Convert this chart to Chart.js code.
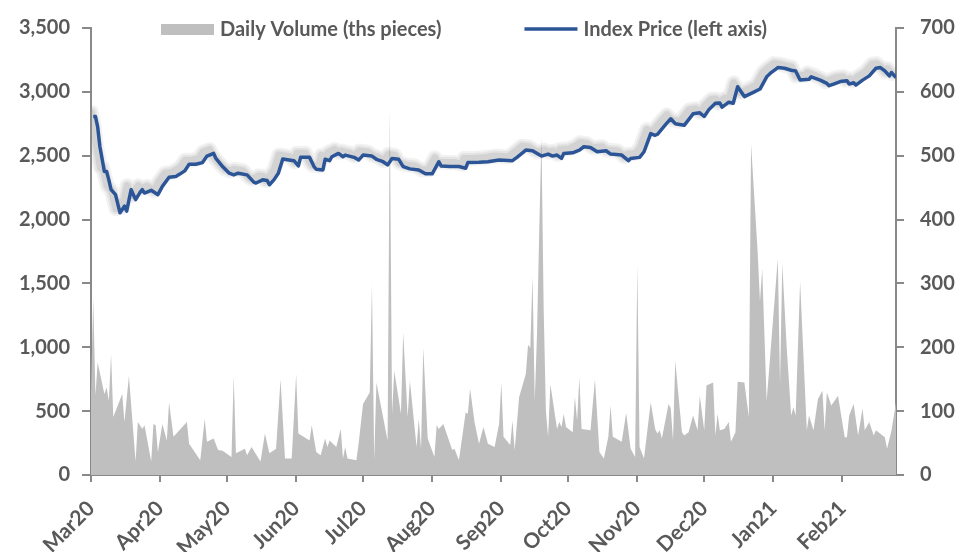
<!DOCTYPE html>
<html>
<head>
<meta charset="utf-8">
<script src="https://cdn.jsdelivr.net/npm/chart.js@4.4.1/dist/chart.umd.min.js"></script>
<style>
  html, body { margin: 0; padding: 0; background: #fff; }
</style>
</head>
<body>
<canvas id="indexChart" width="959" height="552"></canvas>
<script>
// x values are calendar days counted from 1 Mar 2020
const monthTicks = [0, 31, 61, 92, 122, 153, 184, 214, 245, 275, 306, 337];
const monthLabels = ['Mar20', 'Apr20', 'May20', 'Jun20', 'Jul20', 'Aug20',
                     'Sep20', 'Oct20', 'Nov20', 'Dec20', 'Jan21', 'Feb21'];

// Daily volume (ths pieces), right axis
const volumeDays = [0, 1, 2, 3, 6, 7, 8, 9, 10, 14, 15, 17, 20, 21, 23, 24, 27, 28, 29, 30, 32, 34, 35, 37,
  43, 44, 49, 51, 52, 55, 57, 59, 63, 64, 65, 69, 70, 72, 76, 78, 80, 83, 85, 87, 90, 92, 93,
  98, 99, 101, 103, 105, 106, 107, 110, 112, 113, 114, 115, 119, 120, 122, 125, 126, 127, 128,
  133, 134, 135, 136, 139, 140, 142, 143, 146, 147, 148, 149, 151, 154, 155, 156, 158, 162, 163,
  165, 168, 169, 170, 172, 174, 176, 178, 181, 183, 184, 185, 188, 189, 190, 192, 195, 196, 197,
  198, 199, 200, 201, 202, 203, 204, 205, 206, 209, 210, 211, 212, 213, 216, 217, 218, 219, 220,
  224, 226, 228, 230, 232, 233, 234, 238, 240, 242, 244, 245, 246, 248, 251, 253, 254, 255, 256,
  259, 260, 261, 262, 265, 266, 268, 270, 272, 273, 275, 276, 279, 280, 281, 282, 284, 286, 287,
  289, 290, 293, 295, 296, 299, 300, 301, 303, 308, 309, 310, 312, 314, 315, 316, 318, 321, 322,
  324, 326, 328, 329, 330, 332, 335, 338, 339, 340, 342, 344, 346, 347, 349, 351, 352, 356, 357,
  359, 361];
const volumeValues = [127, 277, 125, 176, 127, 137, 116, 189, 91, 127, 83, 155, 21, 83, 72, 78, 21, 80, 78, 36, 80, 54, 114, 60,
  83, 49, 23, 88, 52, 57, 39, 38, 28, 155, 34, 41, 31, 44, 21, 65, 34, 41, 150, 26, 26, 158, 65,
  54, 78, 36, 31, 57, 44, 54, 44, 72, 26, 44, 26, 23, 49, 111, 129, 298, 23, 145,
  54, 572, 96, 163, 96, 223, 91, 148, 44, 88, 41, 199, 57, 28, 78, 72, 80, 39, 41,
  23, 98, 96, 135, 83, 49, 75, 49, 44, 80, 145, 60, 47, 85, 39, 122, 158, 204, 199,
  311, 116, 220, 380, 528, 260, 100, 60, 142, 72, 83, 75, 96, 75, 67, 122, 85, 153, 72,
  70, 150, 36, 26, 60, 109, 60, 52, 97, 41, 28, 329, 44, 26, 114, 72, 65, 70, 57,
  111, 104, 54, 179, 67, 62, 67, 93, 70, 124, 70, 140, 145, 62, 96, 70, 72, 83, 52,
  67, 146, 145, 91, 518, 347, 272, 323, 116, 339, 142, 331, 199, 93, 106, 93, 303, 70, 93,
  70, 119, 132, 70, 129, 109, 124, 59, 59, 93, 111, 62, 104, 70, 83, 62, 70, 59, 41,
  70, 114];

// Index price, left axis
const priceDays = [1, 2, 3, 4, 6, 7, 8, 9, 11, 13, 14, 15, 16, 18, 19, 20, 22, 23, 24, 27, 30, 32, 35, 38,
  40, 42, 44, 47, 50, 52, 55, 56, 59, 62, 64, 66, 70, 73, 74, 77, 79, 80, 82, 84, 86, 91, 93,
  94, 98, 100, 101, 104, 105, 107, 108, 111, 113, 114, 118, 120, 122, 126, 128, 131, 133, 135,
  138, 140, 143, 147, 150, 153, 156, 157, 161, 165, 168, 169, 174, 178, 183, 189, 191, 195, 198,
  202, 205, 207, 209, 211, 212, 216, 219, 221, 224, 227, 231, 233, 238, 241, 242, 246, 248, 251,
  253, 254, 258, 260, 262, 266, 270, 273, 275, 277, 280, 282, 283, 285, 286, 288, 290, 293, 297,
  300, 303, 305, 308, 311, 314, 316, 318, 322, 323, 327, 330, 331, 333, 336, 339, 340, 342, 343,
  346, 349, 352, 354, 356, 358, 359, 361];
const priceValues = [2807, 2807, 2725, 2570, 2376, 2376, 2311, 2234, 2195, 2053, 2079, 2105, 2066, 2234, 2195, 2156, 2213, 2234, 2208, 2229, 2195, 2260, 2332, 2337,
  2358, 2381, 2433, 2433, 2446, 2497, 2518, 2479, 2415, 2363, 2350, 2363, 2350, 2293, 2286, 2311, 2306, 2273, 2311, 2363, 2474, 2461, 2420,
  2487, 2487, 2415, 2394, 2389, 2472, 2461, 2492, 2518, 2492, 2505, 2487, 2466, 2505, 2497, 2472, 2453, 2428, 2479,
  2472, 2415, 2397, 2389, 2358, 2358, 2453, 2420, 2415, 2415, 2402, 2446, 2448, 2453, 2466, 2461, 2487, 2544, 2539,
  2497, 2513, 2497, 2505, 2479, 2518, 2523, 2544, 2570, 2565, 2531, 2539, 2513, 2505, 2461, 2479, 2487, 2531, 2673,
  2660, 2668, 2751, 2789, 2751, 2738, 2828, 2836, 2807, 2859, 2911, 2913, 2880, 2906, 2919, 2911, 3040, 2963, 2996,
  3022, 3118, 3151, 3190, 3185, 3169, 3164, 3092, 3099, 3118, 3092, 3066, 3048, 3061, 3081, 3087, 3061, 3071, 3053,
  3092, 3125, 3185, 3190, 3164, 3125, 3151, 3112];

const volumeColor = '#bfbfbf';
const priceColor = '#2b5597';
const textColor = '#595959';
const axisColor = '#898989';

Chart.defaults.font.family = 'Lato';
Chart.defaults.font.weight = 'bold';
Chart.defaults.color = textColor;

// soft grey shadow up and to the left of the price line, stacked translucent strokes
const lineShadow = {
    id: 'lineShadow',
    beforeDatasetDraw: (chart, args) => {
        if (args.index !== 0) return;
        const ctx = chart.ctx;
        const area = chart.chartArea;
        const xs = chart.scales.x, ys = chart.scales.y;
        const pts = priceDays.map((d, i) => [xs.getPixelForValue(d), ys.getPixelForValue(priceValues[i])]);
        ctx.save();
        ctx.beginPath();
        ctx.rect(area.left + 1, area.top, area.right - area.left - 1, area.bottom - area.top);
        ctx.clip();
        ctx.translate(-4, -4);
        ctx.lineJoin = 'round';
        ctx.lineCap = 'round';
        [[15, 0.05], [11, 0.06], [7, 0.08]].forEach(([w, a]) => {
            ctx.strokeStyle = 'rgba(0, 0, 0, ' + a + ')';
            ctx.lineWidth = w;
            ctx.beginPath();
            pts.forEach((p, i) => (i ? ctx.lineTo(p[0], p[1]) : ctx.moveTo(p[0], p[1])));
            ctx.stroke();
        });
        ctx.restore();
    }
};

// legend sits inside the plot, like the original
const insideLegend = {
    id: 'insideLegend',
    afterDraw: (chart) => {
        const ctx = chart.ctx;
        const items = [
            { text: 'Daily Volume (ths pieces)', kind: 'box', color: volumeColor },
            { text: 'Index Price (left axis)', kind: 'line', color: priceColor }
        ];
        const symbolW = 53, symbolGap = 6, itemGap = 83, y = 29;
        ctx.save();
        ctx.font = 'bold 20px Lato';
        let x = 161;
        items.forEach((it) => {
            const w = ctx.measureText(it.text).width;
            if (it.kind === 'box') {
                ctx.fillStyle = it.color;
                ctx.fillRect(x, y - 5, symbolW, 11);
            } else {
                ctx.strokeStyle = it.color;
                ctx.lineWidth = 3.5;
                ctx.beginPath();
                ctx.moveTo(x, y);
                ctx.lineTo(x + symbolW, y);
                ctx.stroke();
            }
            ctx.fillStyle = textColor;
            ctx.textBaseline = 'middle';
            ctx.fillText(it.text, x + symbolW + symbolGap, y + 1);
            x += symbolW + symbolGap + w + itemGap;
        });
        ctx.restore();
    }
};

new Chart(document.getElementById('indexChart').getContext('2d'), {
    type: 'line',
    plugins: [lineShadow, insideLegend],
    data: {
        datasets: [
            {
                label: 'Index Price (left axis)',
                data: priceDays.map((d, i) => ({ x: d, y: priceValues[i] })),
                yAxisID: 'y',
                borderColor: priceColor,
                borderWidth: 3.5,
                borderJoinStyle: 'round',
                pointRadius: 0,
                fill: false,
                tension: 0
            },
            {
                label: 'Daily Volume (ths pieces)',
                data: volumeDays.map((d, i) => ({ x: d, y: volumeValues[i] })),
                yAxisID: 'y1',
                backgroundColor: volumeColor,
                borderWidth: 0,
                pointRadius: 0,
                fill: 'origin',
                tension: 0
            }
        ]
    },
    options: {
        responsive: false,
        animation: false,
        devicePixelRatio: 1,
        layout: { padding: { top: 25, left: 0, right: 0, bottom: 0 } },
        plugins: {
            legend: { display: false },
            tooltip: { enabled: false }
        },
        scales: {
            x: {
                type: 'linear',
                min: 0,
                max: 361,
                afterBuildTicks: (scale) => {
                    scale.ticks = monthTicks.map((v) => ({ value: v }));
                },
                afterFit: (scale) => { scale.height = 77; },
                ticks: {
                    autoSkip: false,
                    maxRotation: 45,
                    minRotation: 45,
                    padding: 14,
                    color: textColor,
                    font: { size: 21, weight: 'bold' },
                    callback: (value) => monthLabels[monthTicks.indexOf(value)]
                },
                grid: { drawOnChartArea: false, color: axisColor, lineWidth: 2, tickLength: 7 },
                border: { color: axisColor, width: 2 }
            },
            y: {
                position: 'left',
                min: 0,
                max: 3500,
                afterFit: (scale) => { scale.width = 91; },
                ticks: {
                    stepSize: 500,
                    padding: 12,
                    color: textColor,
                    font: { size: 20, weight: 'bold' },
                    callback: (value) => value.toLocaleString('en-US')
                },
                grid: { drawOnChartArea: false, color: axisColor, lineWidth: 2, tickLength: 9 },
                border: { color: axisColor, width: 2 }
            },
            y1: {
                position: 'right',
                min: 0,
                max: 700,
                afterFit: (scale) => { scale.width = 63; },
                ticks: {
                    stepSize: 100,
                    padding: 16,
                    color: textColor,
                    font: { size: 20, weight: 'bold' }
                },
                grid: { drawOnChartArea: false, color: axisColor, lineWidth: 2, tickLength: 8 },
                border: { color: axisColor, width: 2 }
            }
        }
    }
});
</script>
</body>
</html>
